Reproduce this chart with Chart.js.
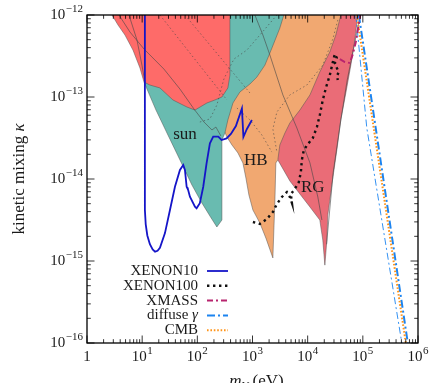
<!DOCTYPE html>
<html><head><meta charset="utf-8">
<script src="https://cdn.jsdelivr.net/npm/chart.js@4.4.1/dist/chart.umd.min.js"></script>
<style>html,body{margin:0;padding:0;background:#fff;}canvas{display:block;}</style>
</head><body>
<canvas id="c" width="429" height="383" style="width:429px;height:383px"></canvas>
<script>
// ---------- data (mass in eV, kinetic mixing kappa) ----------
const massXenon10  = [11.2,11.2,11.6,12.4,13.8,15.5,17.1,19,21,25.9,31.9,39.3,48.4,55.6,59.6,64,68.4,66.5,73.4,90.5,97,111,128,147,169,194,240,275,339,406,500,643,684,792,975];
const kappaXenon10 = [1e-12,4.2e-15,2.8e-15,2.05e-15,1.6e-15,1.38e-15,1.3e-15,1.33e-15,1.45e-15,2.19e-15,4.19e-15,8.05e-15,1.29e-14,1.48e-14,1.29e-14,8.05e-15,7.34e-15,7.8e-15,6.08e-15,4.59e-15,4.39e-15,5.06e-15,8.05e-15,1.55e-14,2.72e-14,3.28e-14,3.28e-14,2.99e-14,3.13e-14,3.54e-14,4.43e-14,7.24e-14,3.25e-14,4.07e-14,5.25e-14];

const massXenon100  = [1017,1361,1823,2340,2767,3410,4200,4760,5180,4960,5860,6930,7530,7850,8530,1.01e4,1.24e4,1.47e4,1.66e4,1.88e4,2.14e4,2.52e4,2.86e4,3.11e4,3.38e4,3.11e4,3.38e4,3.67e4,3.38e4,3.52e4];
const kappaXenon100 = [2.99e-15,2.83e-15,3.25e-15,3.96e-15,4.95e-15,6.03e-15,6.93e-15,6.03e-15,5.1e-15,6.56e-15,7.55e-15,9.2e-15,1.22e-14,1.71e-14,2.26e-14,2.67e-14,3.16e-14,4.3e-14,6.03e-14,9.2e-14,1.29e-13,1.85e-13,2.67e-13,3.34e-13,2.99e-13,2.6e-13,2.26e-13,2.02e-13,1.8e-13,1.61e-13];

const massXmass  = [3.83e4,4.72e4,5.81e4,6.59e4,7.46e4,8.11e4,9.2e4];
const kappaXmass = [2.9e-13,2.67e-13,2.6e-13,3.34e-13,4.69e-13,6.56e-13,1.09e-12];

const massDiffuse  = [8.47e4,6.53e5];
const kappaDiffuse = [1e-12,1e-16];
const massDiffuse2  = [7.47e4,1.18e5,5.09e5];
const kappaDiffuse2 = [1e-12,4.19e-14,1e-16];

const massCmb  = [7.79e4,6.01e5];
const kappaCmb = [1e-12,1e-16];

// excluded regions (lower boundaries, filled up to the top of the plot)
const massRed  = [2.84,3.65,4.88,6.81,9.12,10.8,13.8,21.0,36.1,64.8,90.5,149,208,279,358,390,390];
const kappaRed = [1e-12,7.55e-13,5.7e-13,3.74e-13,2.26e-13,1.52e-13,1.40e-13,1.29e-13,9.2e-14,7.55e-14,6.93e-14,8.45e-14,9.2e-14,1.0e-13,1.29e-13,1.85e-13,1e-12];

const massSun  = [10.8,17.8,29.3,48.4,79.8,121,169,226,279,279,316,358,442,591,898,1200,1680,2250,3130,3700];
const kappaSun = [1.52e-13,6.93e-14,3.44e-14,1.71e-14,8.45e-15,5.1e-15,3.54e-15,2.6e-15,3.16e-15,2.99e-14,3.64e-14,5.25e-14,8.45e-14,1.15e-13,1.44e-13,1.75e-13,2.45e-13,3.96e-13,6.93e-13,1e-12];

const massHB  = [303,344,424,544,670,759,861,1017,1361,1750,2340,2550,2650,2880,3130,3870,4760,7230,1.1e4,1.66e4,2.52e4,3.24e4,3.99e4];
const kappaHB = [3.96e-14,3.25e-14,2.6e-14,2.08e-14,1.57e-14,1.03e-14,6.38e-15,4.19e-15,2.9e-15,1.9e-15,1.09e-15,5.55e-15,1.57e-14,1.71e-14,2.6e-14,3.64e-14,4.82e-14,6.93e-14,1.06e-13,2.02e-13,3.54e-13,5.7e-13,1e-12];

const massRG  = [2880,4760,7230,1.1e4,1.66e4,1.88e4,2.05e4,2.23e4,2.32e4,2.74e4,3.38e4,3.99e4,4.92e4,6.07e4,7.16e4,8.1e4];
const kappaRG = [1.71e-14,9.46e-15,6.56e-15,4.56e-15,3.16e-15,1.8e-15,8.9e-16,1.8e-15,3.64e-15,8.45e-15,2.26e-14,5.25e-14,1.12e-13,2.45e-13,4.95e-13,1e-12];

// thin grey contour lines inside the regions
const massGreyA  = [3.8,6.01,10.8,24.8,48.4,86.8,132,184,217,268];
const kappaGreyA = [1e-12,6.2e-13,3.85e-13,2.19e-13,1.25e-13,7.15e-14,4.95e-14,3.96e-14,4.3e-14,3.34e-14];
const massGreyB  = [5.77,8.05,9.9,11.2];
const kappaGreyB = [1e-12,4.95e-13,2.45e-13,1.52e-13];
const massGreyC  = [1105,1543,2066,3555,6370,1.1e4,1.53e4,1.81e4];
const kappaGreyC = [1e-12,5.7e-13,3.25e-13,1.06e-13,4.19e-14,1.57e-14,6.03e-15,3.16e-15];
const massGreyRG  = [9.0e4,5.2e4,3.99e4,2.9e4,2.2e4];
const kappaGreyRG = [1e-12,1.6e-13,5.25e-14,1.2e-14,1.6e-15];
const massDot1  = [21,344];
const kappaDot1 = [1e-12,9.2e-14];
const massDot2  = [59.6,898];
const kappaDot2 = [1e-12,1.12e-13];
const massDot3  = [111,169,226,303,460,792,1361,2767];
const kappaDot3 = [4.95e-14,5.4e-14,7.98e-14,1.66e-13,2.9e-13,3.74e-13,5.7e-13,1e-12];
const massDot4  = [3.52e4,2.86e4,1.88e4,9680,4760,2767,2340,2767];
const kappaDot4 = [8.7e-13,5.1e-13,2.45e-13,1.4e-13,1.06e-13,6.56e-14,4.07e-14,2.13e-14];
const massDot5  = [522,898,1480,2245];
const kappaDot5 = [7.34e-14,5.25e-14,3.44e-14,2.13e-14];

// text labels
const regionLabels = ['sun','HB','RG'];
const regionLabelMass  = [59.6,1150,1.24e4];
const regionLabelKappa = [3.5e-14,1.7e-14,7.8e-15];
const legendLabels = ['XENON10','XENON100','XMASS','diffuse γ','CMB'];
const xTickExps = [0,1,2,3,4,5,6];
const yTickExps = [-16,-15,-14,-13,-12];

// ---------- helpers ----------
const pts = (m,k) => m.map((v,i)=>({x:v,y:k[i]}));
const SERIF = '"Liberation Serif","DejaVu Serif",serif';
const greyLine = (m,k,dash) => ({label:'', data:pts(m,k), borderColor:'rgba(70,70,70,0.75)', borderWidth:0.8, borderDash:dash||[], fill:false, pointRadius:0});
const region = (lbl,m,k,color) => ({label:lbl, data:pts(m,k), borderColor:'rgba(80,80,80,0.7)', borderWidth:0.7, backgroundColor:color, fill:'end', pointRadius:0});

const datasets = [
  {label:'XENON10', data:pts(massXenon10,kappaXenon10), borderColor:'#1515c8', borderWidth:1.8, fill:false, pointRadius:0},
  {label:'XENON100', data:pts(massXenon100,kappaXenon100), borderColor:'#111', borderWidth:2.4, borderDash:[2.4,3.6], fill:false, pointRadius:0},
  {label:'XMASS', data:pts(massXmass,kappaXmass), borderColor:'#b8246e', borderWidth:2, borderDash:[6,3,2,3], fill:false, pointRadius:0},
  {label:'CMB', data:pts(massCmb,kappaCmb), borderColor:'#ff9419', borderWidth:2, borderDash:[1.6,1.8], fill:false, pointRadius:0},
  {label:'diffuse γ', data:pts(massDiffuse,kappaDiffuse), borderColor:'#1c84f0', borderWidth:2, borderDash:[8,3,2,3], fill:false, pointRadius:0},
  {label:'diffuse γ (2)', data:pts(massDiffuse2,kappaDiffuse2), borderColor:'#1c84f0', borderWidth:0.9, borderDash:[7,3,2,3], fill:false, pointRadius:0},
  greyLine(massGreyA,kappaGreyA),
  greyLine(massGreyB,kappaGreyB),
  greyLine(massGreyC,kappaGreyC),
  greyLine(massGreyRG,kappaGreyRG),
  greyLine(massDot1,kappaDot1,[1.5,2.5]),
  greyLine(massDot2,kappaDot2,[1.5,2.5]),
  greyLine(massDot3,kappaDot3,[1.5,2.5]),
  greyLine(massDot4,kappaDot4,[1.5,2.5]),
  greyLine(massDot5,kappaDot5,[1.5,2.5]),
  region('red', massRed, kappaRed, '#fe6b69'),
  region('sun', massSun, kappaSun, '#69bbb0'),
  region('HB', massHB, kappaHB, '#f1a871'),
  region('RG', massRG, kappaRG, '#ea6c77'),
];

function drawPow(ctx, exp, x, y, align) {
  const base = exp === 0 ? '1' : '10';
  const sup = exp === 0 ? '' : String(exp).replace('-', '\u2212');
  ctx.font = '15px ' + SERIF;
  const wb = ctx.measureText(base).width;
  ctx.font = '11px ' + SERIF;
  const ws = sup ? ctx.measureText(sup).width + 0.5 : 0;
  const w = wb + ws;
  let x0 = align === 'right' ? x - w : x - w / 2;
  ctx.textAlign = 'left';
  ctx.textBaseline = 'middle';
  ctx.font = '15px ' + SERIF;
  ctx.fillText(base, x0, y);
  if (sup) { ctx.font = '11px ' + SERIF; ctx.fillText(sup, x0 + wb + 0.5, y - 6); }
}

const decorations = {
  id: 'decorations',
  afterDatasetsDraw(chart) {
    const {ctx, chartArea: a, scales: {x, y}} = chart;
    ctx.save();
    ctx.fillStyle = '#1a1a1a';
    ctx.font = '17px ' + SERIF; ctx.textAlign = 'center'; ctx.textBaseline = 'middle';
    regionLabels.forEach((t,i) => ctx.fillText(t, x.getPixelForValue(regionLabelMass[i]), y.getPixelForValue(regionLabelKappa[i])));
    ctx.strokeStyle = '#000'; ctx.lineWidth = 1.3;
    ctx.strokeRect(a.left, a.top, a.right - a.left, a.bottom - a.top);
    ctx.lineWidth = 0.8; ctx.beginPath();
    for (let e = xTickExps[0]; e <= xTickExps[xTickExps.length-1]; e++) {
      for (let k = 1; k < 10; k++) {
        const v = k * Math.pow(10, e); if (v > x.max * 1.0001) break;
        const p = x.getPixelForValue(v); const L = k === 1 ? 7.5 : 3.8;
        ctx.moveTo(p, a.bottom); ctx.lineTo(p, a.bottom - L);
        ctx.moveTo(p, a.top); ctx.lineTo(p, a.top + L);
      }
    }
    for (let e = yTickExps[0]; e <= yTickExps[yTickExps.length-1]; e++) {
      for (let k = 1; k < 10; k++) {
        const v = k * Math.pow(10, e); if (v > y.max * 1.0001) break;
        const p = y.getPixelForValue(v); const L = k === 1 ? 7.5 : 3.8;
        ctx.moveTo(a.left, p); ctx.lineTo(a.left + L, p);
        ctx.moveTo(a.right, p); ctx.lineTo(a.right - L, p);
      }
    }
    ctx.stroke();
    x.ticks.forEach(t => drawPow(ctx, Math.round(Math.log10(t.value)), x.getPixelForValue(t.value), a.bottom + 14, 'center'));
    y.ticks.forEach(t => drawPow(ctx, Math.round(Math.log10(t.value)), a.left - 4, y.getPixelForValue(t.value), 'right'));
    ctx.textBaseline = 'alphabetic';
    ctx.save();
    ctx.translate(19, (a.top + a.bottom) / 2); ctx.rotate(-Math.PI / 2);
    ctx.font = '17px ' + SERIF; const t1 = 'kinetic mixing ';
    const w1 = ctx.measureText(t1).width;
    ctx.font = 'italic 17px ' + SERIF; const w2 = ctx.measureText('κ').width;
    let sx = -(w1 + w2) / 2;
    ctx.font = '17px ' + SERIF; ctx.textAlign = 'left'; ctx.fillText(t1, sx, 5);
    ctx.font = 'italic 17px ' + SERIF; ctx.fillText('κ', sx + w1, 5);
    ctx.restore();
    {
      ctx.textAlign = 'left';
      ctx.font = 'italic 17px ' + SERIF; const wm = ctx.measureText('m').width;
      ctx.font = 'italic 11px ' + SERIF; const wv = ctx.measureText('V').width;
      ctx.font = '17px ' + SERIF; const we = ctx.measureText(' (eV)').width;
      const cx = (a.left + a.right) / 2 + 4; let x0 = cx - (wm + wv + we) / 2; const by = 386;
      ctx.font = 'italic 17px ' + SERIF; ctx.fillText('m', x0, by);
      ctx.font = 'italic 11px ' + SERIF; ctx.fillText('V', x0 + wm, by + 3);
      ctx.font = '17px ' + SERIF; ctx.fillText(' (eV)', x0 + wm + wv, by);
    }
    const lx = a.left + 111, ly0 = a.top + 256, step = 14.8;
    legendLabels.forEach((lab, i) => {
      const ds = chart.data.datasets.find(d => d.label === lab);
      const yy = ly0 + i * step;
      ctx.save();
      ctx.strokeStyle = ds.borderColor; ctx.lineWidth = ds.borderWidth; ctx.setLineDash(ds.borderDash || []);
      ctx.beginPath(); ctx.moveTo(lx + 9, yy); ctx.lineTo(lx + 30, yy); ctx.stroke();
      ctx.restore();
      ctx.fillStyle = '#1a1a1a'; ctx.textBaseline = 'middle'; ctx.textAlign = 'right';
      const last = lab.slice(-1);
      if (/[α-ω]/.test(last)) {
        ctx.font = 'italic 15px ' + SERIF; const wg = ctx.measureText(last).width;
        ctx.fillText(last, lx, yy);
        ctx.font = '15px ' + SERIF; ctx.fillText(lab.slice(0, -1), lx - wg, yy);
      } else {
        ctx.font = '15px ' + SERIF; ctx.fillText(lab, lx, yy);
      }
    });
    ctx.restore();
  }
};

const decades = exps => exps.map(e => ({value: Math.pow(10, e)}));

new Chart(document.getElementById('c'), {
  type: 'line',
  data: {datasets},
  options: {
    responsive: false, animation: false,
    layout: {padding: {left: 0, top: 15, right: 11, bottom: 0}},
    elements: {line: {tension: 0}, point: {radius: 0}},
    plugins: {legend: {display: false}, tooltip: {enabled: false}},
    scales: {
      x: {type: 'logarithmic', min: 1, max: 1e6,
          grid: {display: false}, border: {display: false}, ticks: {display: false},
          afterBuildTicks: s => { s.ticks = decades(xTickExps); },
          afterFit: s => { s.height = 40; s.paddingLeft = 0; s.paddingRight = 0; }},
      y: {type: 'logarithmic', min: 1e-16, max: 1e-12,
          grid: {display: false}, border: {display: false}, ticks: {display: false},
          afterBuildTicks: s => { s.ticks = decades(yTickExps); },
          afterFit: s => { s.width = 87; s.paddingTop = 0; s.paddingBottom = 0; }}
    }
  },
  plugins: [decorations]
});
</script>
</body></html>
